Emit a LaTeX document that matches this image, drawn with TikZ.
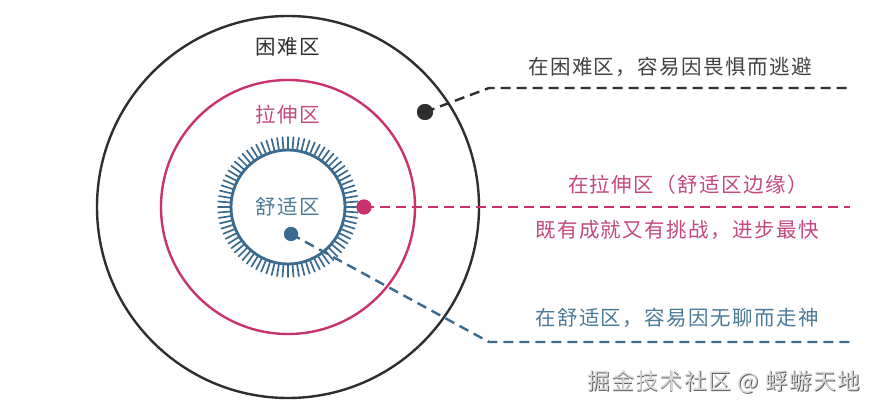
\documentclass[tikz,border=0pt]{standalone}
\usepackage{fontspec}
\newfontfamily\cjk[LetterSpace=7]{Noto Sans CJK SC}
\definecolor{zdark}{HTML}{2E2E2E}
\definecolor{zpink}{HTML}{C8336F}
\definecolor{zpinktext}{HTML}{C4497F}
\definecolor{zblue}{HTML}{3A6B8E}
\definecolor{zbluetext}{HTML}{4C7B98}
\definecolor{zgray}{HTML}{9A9A9A}
\begin{document}
\begin{tikzpicture}[x=1pt,y=-1pt,
  ring/.style={line width=2.4pt},
  dashline/.style={line width=2.4pt, dash pattern=on 10pt off 6pt},
  dot/.style={circle, inner sep=0pt, minimum size=#1},
  lbl/.style={inner sep=0pt, font=\cjk\fontsize{20.5}{23}\selectfont},
]
\useasboundingbox[fill=white] (0,0) rectangle (881,412);
\coordinate (c) at (288,207);
% circles
\draw[ring, zdark] (c) circle[radius=191];
\draw[ring, zpink] (c) circle[radius=127];
\draw[line width=2.8pt, zblue] (c) circle[radius=57];
\begin{scope}[shift={(288,207)}]
  \foreach \a in {0,4.5,...,356} \draw[zblue, line width=1.7pt, line cap=round] (\a:57) -- (\a:70);
\end{scope}
% zone labels
\node[lbl, text=zdark] (hard) at (288,47) {困难区};
\node[lbl, text=zpinktext] (stretch) at (288,115) {拉伸区};
\node[lbl, text=zbluetext] (comfort) at (288,207) {舒适区};
% dots
\node[dot=16pt, fill=zdark] (d1) at (425,112) {};
\node[dot=15pt, fill=zpink] (d2) at (364,207) {};
\node[dot=14pt, fill=zblue] (d3) at (291,234) {};
% connectors
\coordinate (k1) at (489,88);
\coordinate (e1) at (850,88);
\coordinate (e2) at (850,207);
\coordinate (k3) at (489,342);
\coordinate (e3) at (850,342);
\draw[dashline, zdark] (d1.center) -- (k1) -- (e1);
\draw[dashline, zpink] (d2.center) -- (e2);
\draw[dashline, zblue] (d3.center) -- (k3) -- (e3);
\node[dot=16pt, fill=zdark] at (d1) {};
\node[dot=15pt, fill=zpink] at (d2) {};
\node[dot=14pt, fill=zblue] at (d3) {};
% right texts
\node[lbl, text=zdark!90] (t1) at (670,67) {在困难区，容易因畏惧而逃避};
\node[lbl, text=zpinktext] (t2) at (688,185) {在拉伸区（舒适区边缘）};
\node[lbl, text=zpinktext] (t3) at (677,230) {既有成就又有挑战，进步最快};
\node[lbl, text=zbluetext] (t4) at (677,318) {在舒适区，容易因无聊而走神};
% watermark
\node[inner sep=0pt, text=zgray!60!black, font=\cjk\fontsize{22.5}{25}\selectfont] at (724.8,383.2) {掘金技术社区 @ 蜉蝣天地};
\node[inner sep=0pt, text=zgray!40, font=\cjk\fontsize{22.5}{25}\selectfont] (wm) at (724,382) {掘金技术社区 @ 蜉蝣天地};
\end{tikzpicture}
\end{document}
